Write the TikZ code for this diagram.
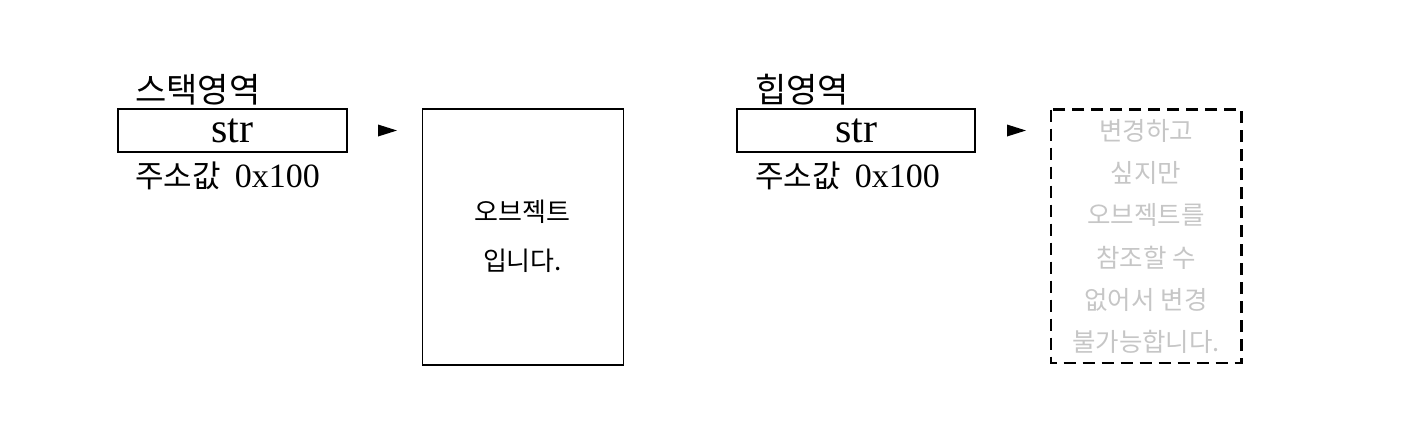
\documentclass[tikz,border=0pt]{standalone}
\usepackage{fontspec}
\setmainfont{Liberation Serif}
\newfontfamily\kr{Noto Sans CJK KR}
\tikzset{
  membox/.style={draw=black, line width=1.2pt, inner sep=0pt},
  heapbox/.style={draw=black, line width=2.5pt, dash pattern=on 12pt off 7pt, inner sep=0pt},
  arealabel/.style={anchor=base west, inner sep=0pt, font=\kr\fontsize{34}{40}\selectfont},
  addrlabel/.style={anchor=base west, inner sep=0pt, font=\fontsize{34}{38}\selectfont},
  varname/.style={anchor=base, inner sep=0pt, font=\fontsize{42}{48}\selectfont},
  objtext/.style={anchor=base, inner sep=0pt, font=\kr\fontsize{26}{30}\selectfont},
  graytext/.style={anchor=base, inner sep=0pt, text=gray!45, font=\kr\fontsize{25.5}{30}\selectfont},
  pointer/.style={fill=black}
}
\begin{document}
\begin{tikzpicture}[x=1pt,y=-1pt]
\useasboundingbox (0,0) rectangle (1424,429);
% stack side
\node[arealabel] (stacklbl) at (135,102) {스택영역};
\draw[membox] (118,109) rectangle (347,152);
\node[varname] (str1) at (232.5,142) {str};
\node[addrlabel] (addr1) at (135,187) {{\kr\fontsize{31}{36}\selectfont 주소값}\hspace{14pt}0x100};
\coordinate (tri1) at (378,130.5);
\fill[pointer] (tri1) ++(0,-6) -- ++(19,6) -- ++(-19,6) -- cycle;
\draw[membox] (422.5,109) rectangle (623.5,365);
\node[objtext] (obj1) at (522.5,221) {오브젝트};
\node[objtext] (obj2) at (522.5,270) {입니다.};
% heap side
\node[arealabel] (heaplbl) at (755,102) {힙영역};
\draw[membox] (737,109) rectangle (975,152);
\node[varname] (str2) at (856,142) {str};
\node[addrlabel] (addr2) at (755,187) {{\kr\fontsize{31}{36}\selectfont 주소값}\hspace{14pt}0x100};
\coordinate (tri2) at (1007,130.5);
\fill[pointer] (tri2) ++(0,-6) -- ++(19,6) -- ++(-19,6) -- cycle;
\draw[heapbox] (1051,109.5) rectangle (1241.5,363);
\node[graytext] (g1) at (1146,140) {변경하고};
\node[graytext] (g2) at (1146,182) {싶지만};
\node[graytext] (g3) at (1146,224) {오브젝트를};
\node[graytext] (g4) at (1146,267) {참조할 수};
\node[graytext] (g5) at (1146,309) {없어서 변경};
\node[graytext] (g6) at (1146,351) {불가능합니다.};
\end{tikzpicture}
\end{document}
